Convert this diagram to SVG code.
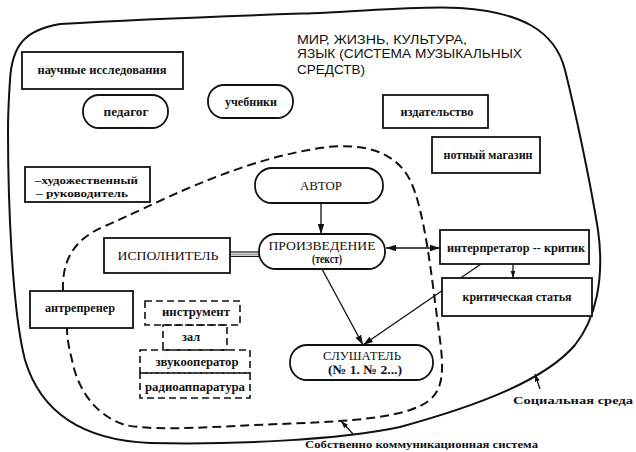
<svg xmlns="http://www.w3.org/2000/svg" width="636" height="452" viewBox="0 0 636 452">
<style>
  .bg{fill:#ffffff}
  .box{fill:#ffffff;stroke:#111;stroke-width:1.8}
  .dbox{fill:none;stroke:#111;stroke-width:1.6;stroke-dasharray:7 4}
  .outer{fill:none;stroke:#111;stroke-width:2}
  .inner{fill:none;stroke:#111;stroke-width:2;stroke-dasharray:9 5}
  .ln{fill:none;stroke:#111;stroke-width:1.3}
  .t{font-family:"Liberation Serif","DejaVu Serif",serif;font-size:12px;font-weight:bold;fill:#111;text-anchor:middle}
  .T{font-family:"Liberation Serif","DejaVu Serif",serif;font-size:13px;fill:#111;text-anchor:middle}
  .h{font-family:"Liberation Sans","DejaVu Sans",sans-serif;font-size:13px;fill:#111}
  .n{font-family:"Liberation Serif","DejaVu Serif",serif;font-size:11px;font-weight:bold;fill:#111}
</style>
<defs>
  <marker id="ah" markerUnits="userSpaceOnUse" markerWidth="11" markerHeight="8" refX="10" refY="4" orient="auto-start-reverse">
    <path d="M0,0.8 L10,4 L0,7.2 Z" fill="#111"/>
  </marker>
  <marker id="ahs" markerUnits="userSpaceOnUse" markerWidth="8" markerHeight="6" refX="7.5" refY="3" orient="auto">
    <path d="M0,0.5 L7.5,3 L0,5.5 Z" fill="#111"/>
  </marker>
</defs>
<rect class="bg" x="0" y="0" width="636" height="452"/>

<g id="boundaries">
  <path id="social-env" class="outer" d="M10,80 C12,45 25,30 60,24 C160,18 260,15 320,13 C380,10 420,6 460,8 C520,12 555,30 565,70 C575,110 590,180 598,230 C605,280 595,320 575,345 C545,380 480,405 400,427 C340,440 230,445 150,443 C80,440 40,410 25,360 C12,310 8,200 8,130 C8,110 9,95 10,80 Z"/>
  <path id="comm-system" class="inner" d="M63,291 C62,262 72,240 105,226 C150,207 230,162 320,148 C360,142 395,150 410,180 C425,210 432,280 440,340 C446,385 440,400 410,410 C380,420 330,422 280,424 C220,426 160,432 125,425 C95,415 78,390 72,360 C68,345 67,335 67,328 L63,291"/>
</g>

<g id="title">
  <text class="h" x="297" y="44" textLength="170" lengthAdjust="spacingAndGlyphs">МИР, ЖИЗНЬ, КУЛЬТУРА,</text>
  <text class="h" x="297" y="58" textLength="225" lengthAdjust="spacingAndGlyphs">ЯЗЫК (СИСТЕМА МУЗЫКАЛЬНЫХ</text>
  <text class="h" x="297" y="74" textLength="68" lengthAdjust="spacingAndGlyphs">СРЕДСТВ)</text>
</g>

<g id="connectors">
  <line class="ln" x1="321" y1="203" x2="321" y2="234" marker-end="url(#ah)"/>
  <g id="performer-work">
    <line x1="230" y1="252" x2="259" y2="252" stroke="#111" stroke-width="1.2"/>
    <line x1="230" y1="254.2" x2="259" y2="254.2" stroke="#777" stroke-width="1"/>
    <line x1="230" y1="256.4" x2="259" y2="256.4" stroke="#111" stroke-width="1.2"/>
  </g>
  <line class="ln" x1="386" y1="248" x2="440" y2="248" marker-start="url(#ah)" marker-end="url(#ah)"/>
  <line class="ln" x1="513" y1="264" x2="513" y2="278" marker-end="url(#ahs)"/>
  <line class="ln" x1="322" y1="269" x2="363" y2="345" marker-end="url(#ah)"/>
  <line class="ln" x1="481" y1="264" x2="363" y2="345" marker-end="url(#ah)"/>
  <line class="ln" x1="540" y1="389" x2="535" y2="374" marker-end="url(#ahs)"/>
  <line class="ln" x1="353" y1="434" x2="341" y2="421" marker-end="url(#ahs)"/>
  <g id="device-chain">
    <rect class="dbox" x="145" y="301" width="95" height="24"/>
    <rect class="dbox" x="163" y="325" width="64" height="25"/>
    <rect class="dbox" x="140" y="350" width="110" height="23"/>
    <rect class="dbox" x="140" y="373" width="110" height="25"/>
  </g>
</g>

<g id="n-nauchnye">
  <rect class="box" x="22" y="52" width="161" height="37"/>
  <text class="t" x="102" y="74" textLength="129" lengthAdjust="spacingAndGlyphs">научные исследования</text>
</g>
<g id="n-pedagog">
  <rect class="box" x="83" y="95" width="85" height="33" rx="16"/>
  <text class="t" x="126" y="116" textLength="45" lengthAdjust="spacingAndGlyphs">педагог</text>
</g>
<g id="n-uchebniki">
  <rect class="box" x="208" y="85" width="85" height="33" rx="16"/>
  <text class="t" x="251" y="106" textLength="52" lengthAdjust="spacingAndGlyphs">учебники</text>
</g>
<g id="n-khud-ruk">
  <rect class="box" x="25" y="167" width="125" height="35"/>
  <text class="n" x="35" y="184" textLength="103" lengthAdjust="spacingAndGlyphs">–художественный</text>
  <text class="n" x="36" y="197" textLength="92" lengthAdjust="spacingAndGlyphs">– руководитель</text>
</g>
<g id="n-izdatelstvo">
  <rect class="box" x="383" y="95" width="105" height="33"/>
  <text class="t" x="437" y="116" textLength="73" lengthAdjust="spacingAndGlyphs">издательство</text>
</g>
<g id="n-notny">
  <rect class="box" x="432" y="137" width="108" height="36"/>
  <text class="t" x="488" y="159" textLength="89" lengthAdjust="spacingAndGlyphs">нотный магазин</text>
</g>
<g id="n-avtor">
  <rect class="box" x="255" y="168" width="128" height="35" rx="17"/>
  <text class="T" x="321" y="190" textLength="42" lengthAdjust="spacingAndGlyphs">АВТОР</text>
</g>
<g id="n-proizvedenie">
  <rect class="box" x="259" y="234" width="126" height="35" rx="17"/>
  <text class="T" x="322" y="250" font-size="12" textLength="107" lengthAdjust="spacingAndGlyphs">ПРОИЗВЕДЕНИЕ</text>
  <text class="t" x="327" y="263" font-size="10" font-weight="normal" textLength="30" lengthAdjust="spacingAndGlyphs">(текст)</text>
</g>
<g id="n-ispolnitel">
  <rect class="box" x="104" y="238" width="126" height="35"/>
  <text class="T" x="168" y="260" textLength="101" lengthAdjust="spacingAndGlyphs">ИСПОЛНИТЕЛЬ</text>
</g>
<g id="n-interpretator">
  <rect class="box" x="440" y="230" width="149" height="34"/>
  <text class="t" x="516" y="252" textLength="138" lengthAdjust="spacingAndGlyphs">интерпретатор -- критик</text>
</g>
<g id="n-statya">
  <rect class="box" x="442" y="278" width="150" height="38"/>
  <text class="t" x="517" y="301" textLength="109" lengthAdjust="spacingAndGlyphs">критическая статья</text>
</g>
<g id="n-antrepriner">
  <rect class="box" x="30" y="291" width="103" height="37"/>
  <text class="t" x="80" y="312" textLength="70" lengthAdjust="spacingAndGlyphs">антрепренер</text>
</g>
<g id="n-instrument">
  <text class="t" x="196" y="316" textLength="68" lengthAdjust="spacingAndGlyphs">инструмент</text>
</g>
<g id="n-zal">
  <text class="t" x="191" y="341" textLength="18" lengthAdjust="spacingAndGlyphs">зал</text>
</g>
<g id="n-zvukooperator">
  <text class="t" x="197" y="366" textLength="83" lengthAdjust="spacingAndGlyphs">звукооператор</text>
</g>
<g id="n-radio">
  <text class="t" x="195" y="391" textLength="100" lengthAdjust="spacingAndGlyphs">радиоаппаратура</text>
</g>
<g id="n-slushatel">
  <rect class="box" x="290" y="345" width="143" height="35" rx="17"/>
  <text class="T" x="362" y="360" font-size="12" textLength="78" lengthAdjust="spacingAndGlyphs">СЛУШАТЕЛЬ</text>
  <text class="T" x="365" y="374" font-size="11" font-weight="bold" textLength="74" lengthAdjust="spacingAndGlyphs">(№ 1. № 2...)</text>
</g>

<g id="labels">
  <text class="n" x="513" y="404" font-size="13" textLength="120" lengthAdjust="spacingAndGlyphs">Социальная среда</text>
  <text class="n" x="305" y="448" font-size="10.5" textLength="233" lengthAdjust="spacingAndGlyphs">Собственно коммуникационная система</text>
</g>
</svg>
